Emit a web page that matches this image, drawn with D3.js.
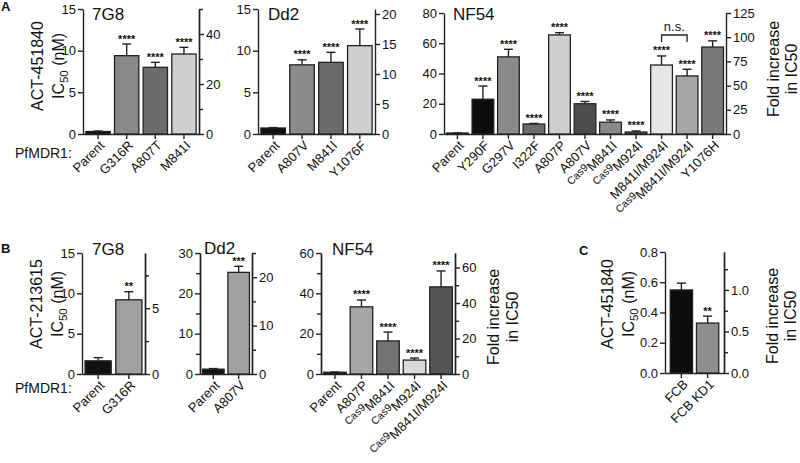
<!DOCTYPE html>
<html><head><meta charset="utf-8">
<script src="https://cdn.jsdelivr.net/npm/d3@7"></script>
<style>body{margin:0;background:#fff}svg{font-family:"Liberation Sans",Arial,Helvetica,sans-serif}</style>
</head><body><svg id="c" width="800" height="463"></svg>
<script>
// ---------- DATA ----------
// Panel A
const a7g8Cats = ["Parent","G316R","A807T","M841I"];
const a7g8Vals = [0.3, 9.4, 8.0, 9.6];
const a7g8Errs = [0.05, 1.4, 0.6, 0.8];
const a7g8Stars = ["","****","****","****"];
const a7g8LeftTicks = [0,5,10,15];
const a7g8RightTicks = [0,20,40];
const a7g8RightMinor = [10,30,50];

const aDd2Cats = ["Parent","A807V","M841I","Y1076F"];
const aDd2Vals = [0.72, 8.3, 8.6, 10.6];
const aDd2Errs = [0.05, 0.6, 1.2, 2.0];
const aDd2Stars = ["","****","****","****"];
const aDd2LeftTicks = [0,5,10,15];
const aDd2RightTicks = [0,5,10,15,20];

const aNF54Cats = ["Parent","Y290F","G297V","I322F","A807P","A807V","Cas9M841I","Cas9M924I","M841I/M924I","Cas9M841I/M924I","Y1076H"];
const aNF54Vals = [0.64, 23, 51, 6.6, 65.5, 20, 7.8, 1.3, 45.6, 38.4, 57.5];
const aNF54Errs = [0.05, 8.7, 5, 0.4, 1.5, 1.5, 1.5, 0.7, 6, 4.4, 4.1];
const aNF54Stars = ["","****","****","****","****","****","****","****","****","****","****"];
const aNF54LeftTicks = [0,20,40,60,80];
const aNF54RightTicks = [0,25,50,75,100,125];

// Panel B
const b7g8Cats = ["Parent","G316R"];
const b7g8Vals = [1.63, 9.2];
const b7g8Errs = [0.4, 1.0];
const b7g8Stars = ["","**"];
const b7g8LeftTicks = [0,5,10,15];
const b7g8RightTicks = [0,5];
const b7g8RightMinor = [2.5,7.5];

const bDd2Cats = ["Parent","A807V"];
const bDd2Vals = [1.2, 25.2];
const bDd2Errs = [0.15, 1.5];
const bDd2Stars = ["","***"];
const bDd2LeftTicks = [0,10,20,30];
const bDd2LeftMinor = [5,15,25];
const bDd2RightTicks = [0,10,20];
const bDd2RightMinor = [5,15,25];

const bNF54Cats = ["Parent","A807P","Cas9M841I","Cas9M924I","Cas9M841I/M924I"];
const bNF54Vals = [0.88, 33.3, 16.4, 6.9, 43.2];
const bNF54Errs = [0.1, 3.4, 4.4, 1.0, 7.9];
const bNF54Stars = ["","****","****","****","****"];
const bNF54LeftTicks = [0,20,40,60];
const bNF54LeftMinor = [10,30,50];
const bNF54RightTicks = [0,20,40,60];
const bNF54RightMinor = [10,30,50];

// Panel C
const cCats = ["FCB","FCB KD1"];
const cVals = [0.549, 0.33];
const cErrs = [0.045, 0.046];
const cStars = ["","**"];
const cLeftTicks = [0,0.2,0.4,0.6,0.8];
const cRightTicks = [0,0.5,1.0];
const cRightMinor = [0.25,0.75,1.25];

// ---------- STYLE ----------
const cA7 = ["#111","#8a8a8a","#6b6b6b","#cfcfcf"];
const cAD = ["#111","#8a8a8a","#6b6b6b","#cfcfcf"];
const cAN = ["#111","#0d0d0d","#8a8a8a","#6b6b6b","#cfcfcf","#4d4d4d","#8a8a8a","#5a5a5a","#e6e6e6","#a6a6a6","#7a7a7a"];
const cB7 = ["#111","#a0a0a0"];
const cBD = ["#111","#a0a0a0"];
const cBN = ["#111","#a6a6a6","#737373","#d9d9d9","#555"];
const cC = ["#0d0d0d","#8f8f8f"];

const svg = d3.select("#c");
const INK = "#222";

function xLabel(g, txt, x, y) {
  const t = g.append("text").attr("transform", `translate(${x},${y}) rotate(-45)`)
    .attr("text-anchor","end").attr("dy","0.35em").attr("font-size",13).attr("fill","#111");
  if (txt.startsWith("Cas9")) {
    t.append("tspan").text("Cas9").attr("font-size",10.5).attr("dy","-0.05em");
    t.append("tspan").text(txt.slice(4)).attr("dy","0.4em");
  } else t.text(txt);
}

function panel(cfg) {
  const g = svg.append("g");
  const y = d3.scaleLinear().domain([0, cfg.yMax]).range([cfg.bottom, cfg.top]);
  const rMax = cfg.yMax / cfg.vals[0];
  const yr = d3.scaleLinear().domain([0, rMax]).range([cfg.bottom, cfg.top]);
  const x = d3.scaleBand().domain(cfg.cats).range([cfg.x0, cfg.x1]).paddingInner(0.15).paddingOuter(cfg.po ?? 0.1);
  const fmt = cfg.fmt || (d => d);
  g.append("g").attr("transform", `translate(${cfg.x0},0)`)
    .call(d3.axisLeft(y).tickValues(cfg.yTicks).tickFormat(fmt).tickSize(5).tickSizeOuter(0).tickPadding(2));
  if (cfg.yMinor) g.append("g").attr("transform", `translate(${cfg.x0},0)`)
    .call(d3.axisLeft(y).tickValues(cfg.yMinor).tickFormat("").tickSize(4).tickSizeOuter(0));
  g.append("g").attr("transform", `translate(${cfg.x1},0)`)
    .call(d3.axisRight(yr).tickValues(cfg.rTicks).tickFormat(cfg.rfmt || (d => d)).tickSize(5).tickSizeOuter(0).tickPadding(2));
  if (cfg.rMinor) g.append("g").attr("transform", `translate(${cfg.x1},0)`)
    .call(d3.axisRight(yr).tickValues(cfg.rMinor).tickFormat("").tickSize(4).tickSizeOuter(0));
  g.append("g").attr("transform", `translate(0,${cfg.bottom})`)
    .call(d3.axisBottom(x).tickSize(5).tickSizeOuter(0).tickFormat(""));
  g.selectAll(".domain, .tick line").attr("stroke", INK).attr("stroke-width", 1.4);
  g.selectAll(".tick text").attr("font-size", 13).attr("fill", "#111").attr("font-family", null);
  cfg.cats.forEach((c, i) => {
    const v = cfg.vals[i], e = cfg.errs[i], cx = x(c) + x.bandwidth()/2;
    g.append("rect").attr("x", x(c)).attr("width", x.bandwidth())
      .attr("y", y(v)).attr("height", Math.max(cfg.bottom - y(v), 0.8))
      .attr("fill", cfg.colors[i]).attr("stroke", INK).attr("stroke-width", 1.3);
    const yt = y(v + e);
    g.append("line").attr("x1", cx).attr("x2", cx).attr("y1", y(v)).attr("y2", yt).attr("stroke", INK).attr("stroke-width", 1.4);
    g.append("line").attr("x1", cx-4.5).attr("x2", cx+4.5).attr("y1", yt).attr("y2", yt).attr("stroke", INK).attr("stroke-width", 1.4);
    if (cfg.stars[i]) g.append("text").attr("x", cx).attr("y", yt - 1.5).attr("text-anchor","middle")
      .attr("font-size", 11).attr("font-weight","bold").attr("fill","#111").text(cfg.stars[i]);
    xLabel(g, c, cx + 4, cfg.bottom + 9);
  });
  if (cfg.title) g.append("text").attr("x", cfg.x0 + cfg.tdx).attr("y", cfg.ty).attr("font-size", 17).attr("fill","#111").text(cfg.title);
  return {g, x, y};
}

function vLabel(lines, xs, cy, size, sub) {
  lines.forEach((ln, i) => {
    const t = svg.append("text").attr("transform", `translate(${xs[i]},${cy}) rotate(-90)`)
      .attr("text-anchor","middle").attr("font-size", size).attr("fill","#111");
    const m = sub ? ln.match(/^(.*IC)50(.*)$/) : null;
    if (m) {
      t.append("tspan").text(m[1]);
      t.append("tspan").text("50").attr("font-size", size*0.72).attr("dy", size*0.22);
      if (m[2]) t.append("tspan").text(m[2]).attr("dy", -size*0.22);
    } else t.text(ln);
  });
}

function txt(s, x, y, size, weight) {
  svg.append("text").attr("x", x).attr("y", y).attr("font-size", size).attr("font-weight", weight || null).attr("fill","#111").text(s);
}

// Panel A
panel({x0:83, x1:199, top:9, bottom:134, yMax:15, cats:a7g8Cats, vals:a7g8Vals, errs:a7g8Errs, stars:a7g8Stars,
  colors:cA7, yTicks:a7g8LeftTicks, rTicks:a7g8RightTicks, rMinor:a7g8RightMinor, title:"7G8", tdx:9, ty:20});
panel({x0:258, x1:375, top:9, bottom:134, yMax:15, cats:aDd2Cats, vals:aDd2Vals, errs:aDd2Errs, stars:aDd2Stars,
  colors:cAD, yTicks:aDd2LeftTicks, rTicks:aDd2RightTicks, title:"Dd2", tdx:10, ty:20});
const pN = panel({x0:444, x1:726, top:13, bottom:134, yMax:80, cats:aNF54Cats, vals:aNF54Vals, errs:aNF54Errs, stars:aNF54Stars,
  colors:cAN, yTicks:aNF54LeftTicks, rTicks:aNF54RightTicks, title:"NF54", tdx:9, ty:20});
{
  const xa = pN.x(aNF54Cats[8]) + pN.x.bandwidth()/2, xb = pN.x(aNF54Cats[9]) + pN.x.bandwidth()/2;
  svg.append("path").attr("d", `M${xa},42V35H${xb}V42`).attr("fill","none").attr("stroke",INK).attr("stroke-width",1.3);
  svg.append("text").attr("x", (xa+xb)/2).attr("y", 31).attr("text-anchor","middle").attr("font-size",13).attr("fill","#111").text("n.s.");
}
vLabel(["ACT-451840","IC50 (nM)"], [43, 64], 66, 16, true);
vLabel(["Fold increase","in IC50"], [779, 797], 69, 16, false);
txt("A", 1, 11, 13, "bold");
txt("PfMDR1:", 15, 158, 14);

// Panel B
panel({x0:82, x1:145, top:253, bottom:374, yMax:15, cats:b7g8Cats, vals:b7g8Vals, errs:b7g8Errs, stars:b7g8Stars,
  colors:cB7, yTicks:b7g8LeftTicks, rTicks:b7g8RightTicks, rMinor:b7g8RightMinor, title:"7G8", tdx:10, ty:255});
panel({x0:200, x1:252, top:253, bottom:374, yMax:30, cats:bDd2Cats, vals:bDd2Vals, errs:bDd2Errs, stars:bDd2Stars,
  colors:cBD, yTicks:bDd2LeftTicks, yMinor:bDd2LeftMinor, rTicks:bDd2RightTicks, rMinor:bDd2RightMinor, title:"Dd2", tdx:4, ty:254});
panel({x0:321, x1:455, top:253, bottom:374, yMax:60, cats:bNF54Cats, vals:bNF54Vals, errs:bNF54Errs, stars:bNF54Stars,
  colors:cBN, yTicks:bNF54LeftTicks, yMinor:bNF54LeftMinor, rTicks:bNF54RightTicks, rMinor:bNF54RightMinor, title:"NF54", tdx:11, ty:255});
vLabel(["ACT-213615","IC50 (nM)"], [42, 63], 304, 16, true);
vLabel(["Fold increase","in IC50"], [499, 518], 317, 16, false);
txt("B", 1, 253, 13, "bold");
txt("PfMDR1:", 15, 393, 14);

// Panel C
panel({x0:665, x1:724, top:252, bottom:373, yMax:0.8, cats:cCats, vals:cVals, errs:cErrs, stars:cStars,
  colors:cC, yTicks:cLeftTicks, rTicks:cRightTicks, rMinor:cRightMinor, title:"", tdx:0, ty:0, po:0.2,
  fmt:d3.format(".1f"), rfmt:d3.format(".1f")});
vLabel(["ACT-451840","IC50 (nM)"], [613, 634], 304, 16, true);
vLabel(["Fold increase","in IC50"], [778, 796], 316, 16, false);
txt("C", 579, 255, 13, "bold");
</script></body></html>
